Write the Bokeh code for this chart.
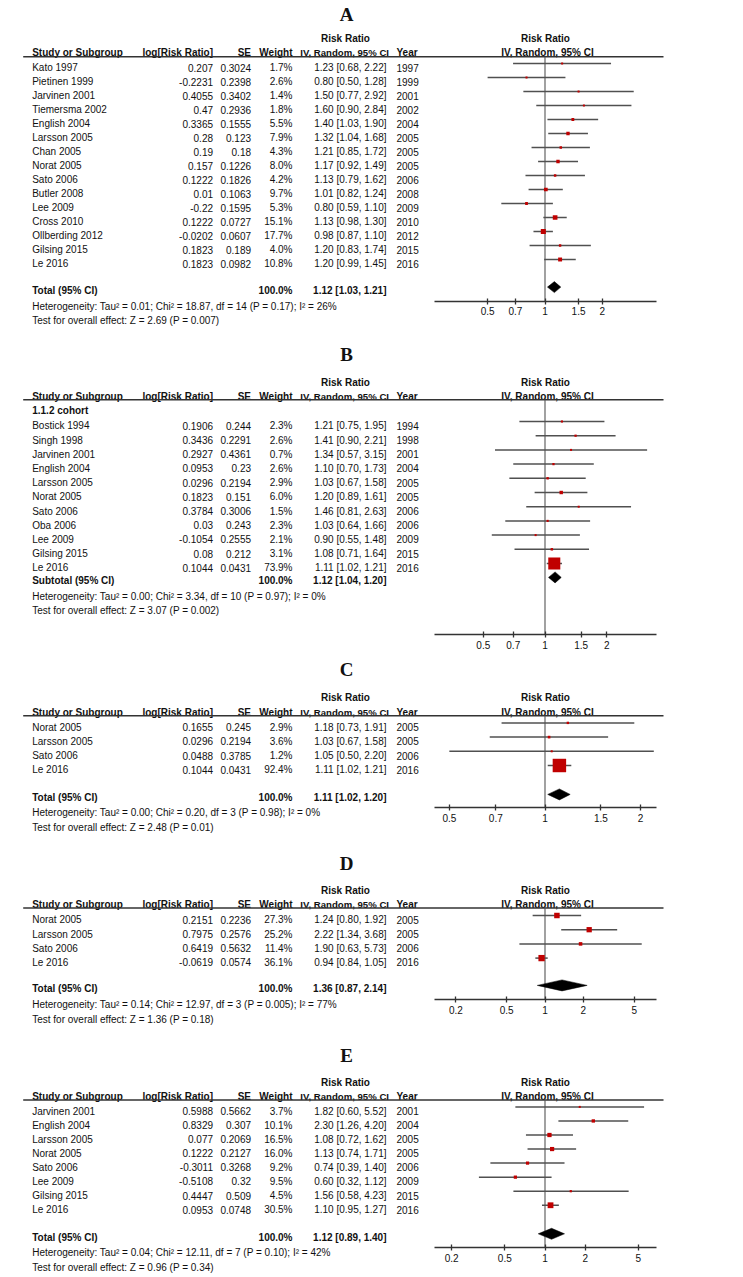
import math
from bokeh.plotting import figure
from bokeh.models import Range1d, LogScale, LinearAxis, FixedTicker, ColumnDataSource
from bokeh.core.properties import value
from bokeh.embed import file_html
from bokeh.resources import INLINE

# ------------------------------------------------------------------ data
A_STUDY = ["Kato 1997", "Pietinen 1999", "Jarvinen 2001", "Tiemersma 2002", "English 2004",
           "Larsson 2005", "Chan 2005", "Norat 2005", "Sato 2006", "Butler 2008", "Lee 2009",
           "Cross 2010", "Ollberding 2012", "Gilsing 2015", "Le 2016"]
A_LOGRR = [0.207, -0.2231, 0.4055, 0.47, 0.3365, 0.28, 0.19, 0.157, 0.1222, 0.01, -0.22,
           0.1222, -0.0202, 0.1823, 0.1823]
A_SE = [0.3024, 0.2398, 0.3402, 0.2936, 0.1555, 0.123, 0.18, 0.1226, 0.1826, 0.1063, 0.1595,
        0.0727, 0.0607, 0.189, 0.0982]
A_WEIGHT = [1.7, 2.6, 1.4, 1.8, 5.5, 7.9, 4.3, 8.0, 4.2, 9.7, 5.3, 15.1, 17.7, 4.0, 10.8]
A_RR = [1.23, 0.80, 1.50, 1.60, 1.40, 1.32, 1.21, 1.17, 1.13, 1.01, 0.80, 1.13, 0.98, 1.20, 1.20]
A_LO = [0.68, 0.50, 0.77, 0.90, 1.03, 1.04, 0.85, 0.92, 0.79, 0.82, 0.59, 0.98, 0.87, 0.83, 0.99]
A_HI = [2.22, 1.28, 2.92, 2.84, 1.90, 1.68, 1.72, 1.49, 1.62, 1.24, 1.10, 1.30, 1.10, 1.74, 1.45]
A_YEAR = [1997, 1999, 2001, 2002, 2004, 2005, 2005, 2005, 2006, 2008, 2009, 2010, 2012, 2015, 2016]
A_POOLED = [1.12, 1.03, 1.21]
A_POOLED_LABEL = "Total (95% CI)"
A_HET = "Heterogeneity: Tau\u00b2 = 0.01; Chi\u00b2 = 18.87, df = 14 (P = 0.17); I\u00b2 = 26%"
A_TEST = "Test for overall effect: Z = 2.69 (P = 0.007)"
A_TICKS = [0.5, 0.7, 1, 1.5, 2]
A_TICK_LABELS = ["0.5", "0.7", "1", "1.5", "2"]

B_SUBGROUP = "1.1.2 cohort"
B_STUDY = ["Bostick 1994", "Singh 1998", "Jarvinen 2001", "English 2004", "Larsson 2005",
           "Norat 2005", "Sato 2006", "Oba 2006", "Lee 2009", "Gilsing 2015", "Le 2016"]
B_LOGRR = [0.1906, 0.3436, 0.2927, 0.0953, 0.0296, 0.1823, 0.3784, 0.03, -0.1054, 0.08, 0.1044]
B_SE = [0.244, 0.2291, 0.4361, 0.23, 0.2194, 0.151, 0.3006, 0.243, 0.2555, 0.212, 0.0431]
B_WEIGHT = [2.3, 2.6, 0.7, 2.6, 2.9, 6.0, 1.5, 2.3, 2.1, 3.1, 73.9]
B_RR = [1.21, 1.41, 1.34, 1.10, 1.03, 1.20, 1.46, 1.03, 0.90, 1.08, 1.11]
B_LO = [0.75, 0.90, 0.57, 0.70, 0.67, 0.89, 0.81, 0.64, 0.55, 0.71, 1.02]
B_HI = [1.95, 2.21, 3.15, 1.73, 1.58, 1.61, 2.63, 1.66, 1.48, 1.64, 1.21]
B_YEAR = [1994, 1998, 2001, 2004, 2005, 2005, 2006, 2006, 2009, 2015, 2016]
B_POOLED = [1.12, 1.04, 1.20]
B_POOLED_LABEL = "Subtotal (95% CI)"
B_HET = "Heterogeneity: Tau\u00b2 = 0.00; Chi\u00b2 = 3.34, df = 10 (P = 0.97); I\u00b2 = 0%"
B_TEST = "Test for overall effect: Z = 3.07 (P = 0.002)"
B_TICKS = [0.5, 0.7, 1, 1.5, 2]
B_TICK_LABELS = ["0.5", "0.7", "1", "1.5", "2"]

C_STUDY = ["Norat 2005", "Larsson 2005", "Sato 2006", "Le 2016"]
C_LOGRR = [0.1655, 0.0296, 0.0488, 0.1044]
C_SE = [0.245, 0.2194, 0.3785, 0.0431]
C_WEIGHT = [2.9, 3.6, 1.2, 92.4]
C_RR = [1.18, 1.03, 1.05, 1.11]
C_LO = [0.73, 0.67, 0.50, 1.02]
C_HI = [1.91, 1.58, 2.20, 1.21]
C_YEAR = [2005, 2005, 2006, 2016]
C_POOLED = [1.11, 1.02, 1.20]
C_POOLED_LABEL = "Total (95% CI)"
C_HET = "Heterogeneity: Tau\u00b2 = 0.00; Chi\u00b2 = 0.20, df = 3 (P = 0.98); I\u00b2 = 0%"
C_TEST = "Test for overall effect: Z = 2.48 (P = 0.01)"
C_TICKS = [0.5, 0.7, 1, 1.5, 2]
C_TICK_LABELS = ["0.5", "0.7", "1", "1.5", "2"]

D_STUDY = ["Norat 2005", "Larsson 2005", "Sato 2006", "Le 2016"]
D_LOGRR = [0.2151, 0.7975, 0.6419, -0.0619]
D_SE = [0.2236, 0.2576, 0.5632, 0.0574]
D_WEIGHT = [27.3, 25.2, 11.4, 36.1]
D_RR = [1.24, 2.22, 1.90, 0.94]
D_LO = [0.80, 1.34, 0.63, 0.84]
D_HI = [1.92, 3.68, 5.73, 1.05]
D_YEAR = [2005, 2005, 2006, 2016]
D_POOLED = [1.36, 0.87, 2.14]
D_POOLED_LABEL = "Total (95% CI)"
D_HET = "Heterogeneity: Tau\u00b2 = 0.14; Chi\u00b2 = 12.97, df = 3 (P = 0.005); I\u00b2 = 77%"
D_TEST = "Test for overall effect: Z = 1.36 (P = 0.18)"
D_TICKS = [0.2, 0.5, 1, 2, 5]
D_TICK_LABELS = ["0.2", "0.5", "1", "2", "5"]

E_STUDY = ["Jarvinen 2001", "English 2004", "Larsson 2005", "Norat 2005", "Sato 2006",
           "Lee 2009", "Gilsing 2015", "Le 2016"]
E_LOGRR = [0.5988, 0.8329, 0.077, 0.1222, -0.3011, -0.5108, 0.4447, 0.0953]
E_SE = [0.5662, 0.307, 0.2069, 0.2127, 0.3268, 0.32, 0.509, 0.0748]
E_WEIGHT = [3.7, 10.1, 16.5, 16.0, 9.2, 9.5, 4.5, 30.5]
E_RR = [1.82, 2.30, 1.08, 1.13, 0.74, 0.60, 1.56, 1.10]
E_LO = [0.60, 1.26, 0.72, 0.74, 0.39, 0.32, 0.58, 0.95]
E_HI = [5.52, 4.20, 1.62, 1.71, 1.40, 1.12, 4.23, 1.27]
E_YEAR = [2001, 2004, 2005, 2005, 2006, 2009, 2015, 2016]
E_POOLED = [1.12, 0.89, 1.40]
E_POOLED_LABEL = "Total (95% CI)"
E_HET = "Heterogeneity: Tau\u00b2 = 0.04; Chi\u00b2 = 12.11, df = 7 (P = 0.10); I\u00b2 = 42%"
E_TEST = "Test for overall effect: Z = 0.96 (P = 0.34)"
E_TICKS = [0.2, 0.5, 1, 2, 5]
E_TICK_LABELS = ["0.2", "0.5", "1", "2", "5"]

NULL_RR = 1

# ------------------------------------------------------------------ layout / style
W, H = 742, 1276
X0, X1 = 0, W                   # page x covered by the frame (1:1 pixels)
Y_TOP, Y_BOT = 0, H
FONT = "Liberation Sans"
TXT = "#111111"
X_STUDY = 31.7
X_LOG_R = 212.5
X_SE_R = 250.5
X_W_R = 292
X_CI_R = 386
X_CIHEAD_R = 388.5
X_YEAR_L = 396
X_RRHEAD_C = 345
X_TITLE_C = 346
X_ONE = 544.5                   # page x of RR = 1
X_FHEAD_C = 547
LINE_X0, LINE_X1 = 22.7, 663
AXIS_HALF = 111
MARK_DY = -4.3
POOL_DY = -3.4
DIAMOND_H = 5.5
SQUARE_COLOR = "#c00000"

LAYOUT = {
    "A": dict(title=13.5, rr=37.5, head=52, line=56.3, sub=None, first=67.3, step=14.0,
              pooled=290, het=305.5, test=320, axis=300.7, s=82.8, k=1.2),
    "B": dict(title=354, rr=381.7, head=395.7, line=399.3, sub=410, first=425.3, step=14.2,
              pooled=580.3, het=596, test=610.3, axis=634, s=89, k=1.4),
    "C": dict(title=669, rr=696.7, head=711.7, line=715.2, sub=None, first=726.7, step=14.2,
              pooled=797.3, het=811.7, test=826.7, axis=807.3, s=138, k=1.4),
    "D": dict(title=863.3, rr=890, head=904, line=907.5, sub=None, first=919.3, step=14.2,
              pooled=988.3, het=1004, test=1019, axis=999.3, s=55.4, k=1.05),
    "E": dict(title=1055, rr=1081.7, head=1096, line=1099.5, sub=None, first=1110.7, step=14.05,
              pooled=1236.7, het=1252.3, test=1266.7, axis=1247.3, s=58, k=1.05),
}

p = figure(width=W, height=H, x_range=Range1d(X0, X1), y_range=Range1d(Y_BOT, Y_TOP),
           x_axis_type=None, y_axis_type=None, toolbar_location=None,
           output_backend="svg", min_border=0, outline_line_color=None,
           background_fill_color="white", border_fill_color="white")

extra_ranges, extra_scales = {}, {}
for name, L in LAYOUT.items():
    s = L["s"]
    extra_ranges[name] = Range1d(math.exp((X0 - X_ONE) / s), math.exp((X1 - X_ONE) / s))
    extra_scales[name] = LogScale()
p.extra_x_ranges = extra_ranges
p.extra_x_scales = extra_scales


def txt(xs, ys, texts, align="left", bold=False, size="10px", font=FONT):
    src = ColumnDataSource(dict(x=list(xs), y=list(ys), t=list(texts)))
    p.text(x="x", y="y", text="t", source=src, text_align=align, text_baseline="middle",
           text_font=value(font), text_font_size=size,
           text_font_style="bold" if bold else "normal", text_color=TXT)


def panel(name, study, logrr, se, wt, rr, lo, hi, year, pooled, pooled_label, het, test,
          ticks, tick_labels, subgroup=None):
    L = LAYOUT[name]
    n = len(study)
    first = L["first"]
    ys = [first + i * L["step"] for i in range(n)]

    # title letter
    txt([X_TITLE_C], [L["title"]], [name], align="center", bold=True, size="19px",
        font="Liberation Serif")
    # headers
    txt([X_RRHEAD_C, X_FHEAD_C - 2], [L["rr"], L["rr"]], ["Risk Ratio", "Risk Ratio"],
        align="center", bold=True)
    txt([X_STUDY, X_YEAR_L], [L["head"]] * 2, ["Study or Subgroup", "Year"], bold=True)
    txt([X_LOG_R, X_SE_R, X_W_R], [L["head"]] * 3,
        ["log[Risk Ratio]", "SE", "Weight"], align="right", bold=True)
    txt([X_CIHEAD_R], [L["head"]], ["IV, Random, 95% CI"], align="right", bold=True,
        size="9.6px")
    txt([X_FHEAD_C], [L["head"]], ["IV, Random, 95% CI"], align="center", bold=True)
    p.segment(x0=[LINE_X0], x1=[LINE_X1], y0=[L["line"]], y1=[L["line"]],
              line_color="#333333", line_width=1.4)
    if subgroup is not None:
        txt([X_STUDY], [L["sub"]], [subgroup], bold=True)

    # rows
    txt([X_STUDY] * n, ys, study)
    txt([X_LOG_R] * n, ys, [str(v) for v in logrr], align="right")
    txt([X_SE_R] * n, ys, [str(v) for v in se], align="right")
    txt([X_W_R] * n, ys, ["%.1f%%" % v for v in wt], align="right")
    txt([X_CI_R] * n, ys, ["%.2f [%.2f, %.2f]" % t for t in zip(rr, lo, hi)], align="right")
    txt([X_YEAR_L] * n, ys, [str(v) for v in year])

    # pooled row
    txt([X_STUDY], [L["pooled"]], [pooled_label], bold=True)
    txt([X_W_R], [L["pooled"]], ["100.0%"], align="right", bold=True)
    txt([X_CI_R], [L["pooled"]], ["%.2f [%.2f, %.2f]" % tuple(pooled)], align="right", bold=True)
    txt([X_STUDY], [L["het"]], [het])
    txt([X_STUDY], [L["test"]], [test])

    # forest
    my = [y + MARK_DY for y in ys]
    src = ColumnDataSource(dict(rr=rr, lo=lo, hi=hi, y=my,
                                sz=[max(2.0, L["k"] * math.sqrt(w)) for w in wt]))
    p.segment(x0=[NULL_RR], x1=[NULL_RR], y0=[L["line"]], y1=[L["axis"]],
              line_color="#555555", line_width=1.1, x_range_name=name)
    p.segment(x0="lo", x1="hi", y0="y", y1="y", source=src, line_color="#505050",
              line_width=1.5, x_range_name=name)
    p.scatter(x="rr", y="y", size="sz", marker="square", source=src, fill_color=SQUARE_COLOR,
              line_color=None, x_range_name=name)
    est, plo, phi = pooled
    dy = L["pooled"] + POOL_DY
    p.patches(xs=[[plo, est, phi, est]], ys=[[dy, dy - DIAMOND_H, dy, dy + DIAMOND_H]],
              fill_color="black", line_color="black", line_width=0.5, x_range_name=name)

    s = L["s"]
    ax = LinearAxis(x_range_name=name, fixed_location=L["axis"],
                    ticker=FixedTicker(ticks=ticks),
                    bounds=(math.exp(-AXIS_HALF / s), math.exp(AXIS_HALF / s)),
                    major_label_overrides=dict(zip(ticks, tick_labels)),
                    axis_line_color="#333333", axis_line_width=1.4,
                    major_tick_line_color="#333333", major_tick_line_width=1.3,
                    major_tick_in=3, major_tick_out=3, minor_tick_line_color=None,
                    major_label_text_font=FONT, major_label_text_font_size="10px",
                    major_label_text_color=TXT, major_label_standoff=3)
    p.add_layout(ax, "below")


panel("A", A_STUDY, A_LOGRR, A_SE, A_WEIGHT, A_RR, A_LO, A_HI, A_YEAR, A_POOLED,
      A_POOLED_LABEL, A_HET, A_TEST, A_TICKS, A_TICK_LABELS)
panel("B", B_STUDY, B_LOGRR, B_SE, B_WEIGHT, B_RR, B_LO, B_HI, B_YEAR, B_POOLED,
      B_POOLED_LABEL, B_HET, B_TEST, B_TICKS, B_TICK_LABELS, subgroup=B_SUBGROUP)
panel("C", C_STUDY, C_LOGRR, C_SE, C_WEIGHT, C_RR, C_LO, C_HI, C_YEAR, C_POOLED,
      C_POOLED_LABEL, C_HET, C_TEST, C_TICKS, C_TICK_LABELS)
panel("D", D_STUDY, D_LOGRR, D_SE, D_WEIGHT, D_RR, D_LO, D_HI, D_YEAR, D_POOLED,
      D_POOLED_LABEL, D_HET, D_TEST, D_TICKS, D_TICK_LABELS)
panel("E", E_STUDY, E_LOGRR, E_SE, E_WEIGHT, E_RR, E_LO, E_HI, E_YEAR, E_POOLED,
      E_POOLED_LABEL, E_HET, E_TEST, E_TICKS, E_TICK_LABELS)

open("out.html", "w").write(file_html(p, INLINE))
